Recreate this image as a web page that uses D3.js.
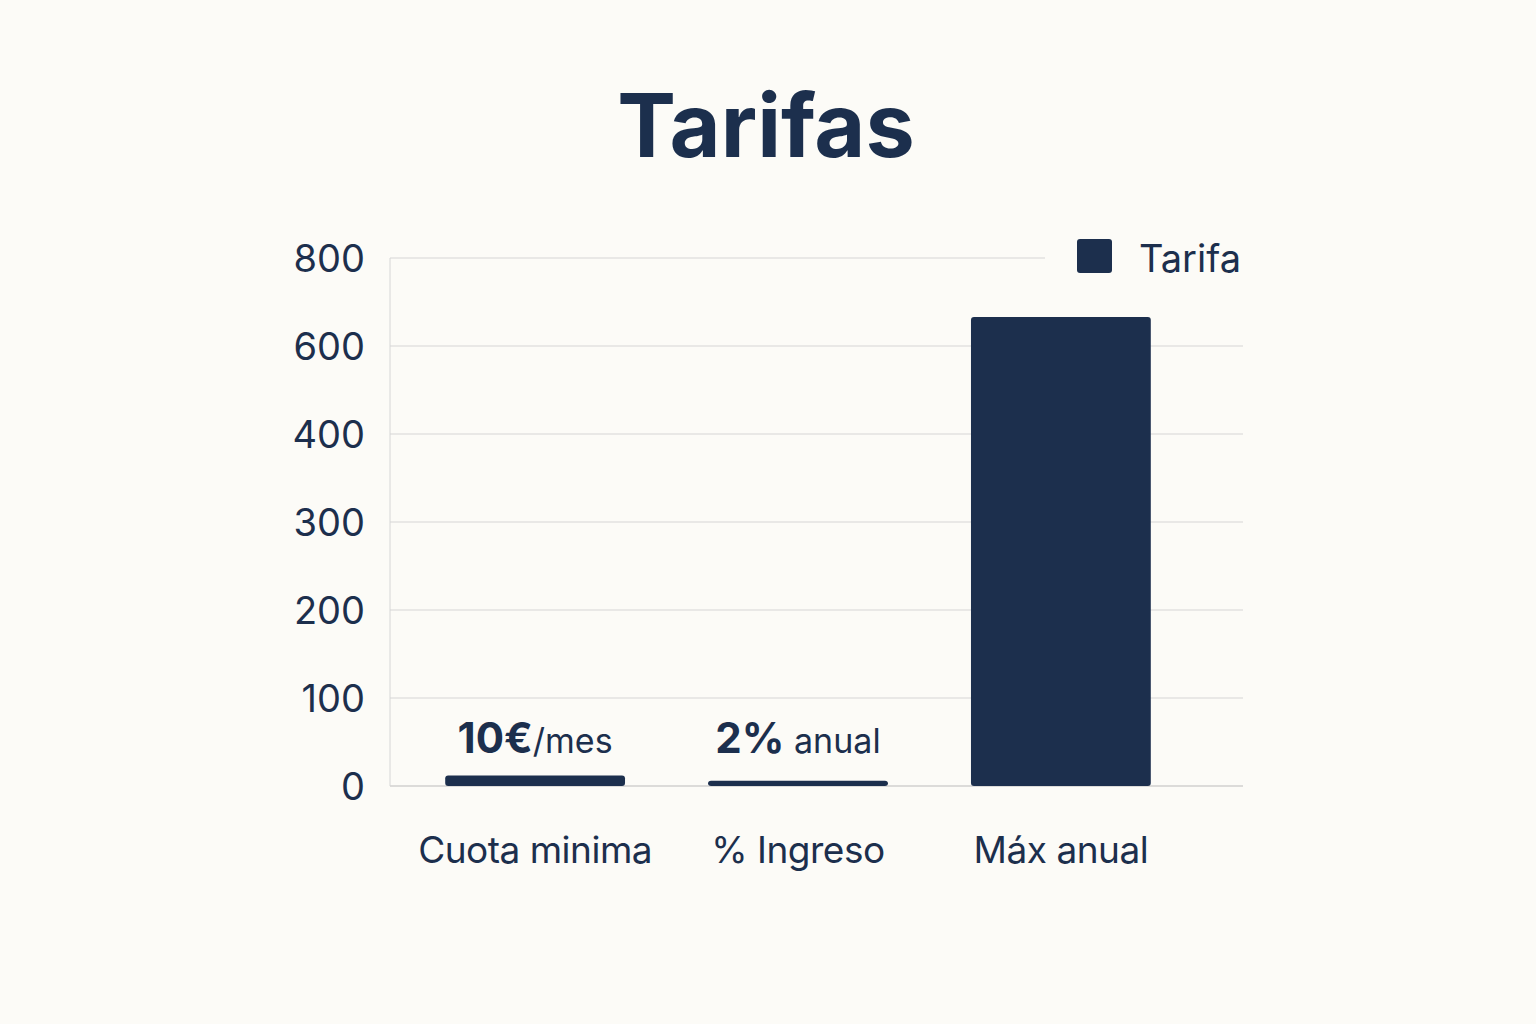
<!DOCTYPE html>
<html><head><meta charset="utf-8">
<script src="https://cdn.jsdelivr.net/npm/d3@7"></script>
<style>body{margin:0;background:#fcfbf7;}svg{display:block;font-family:Inter,"Noto Sans",sans-serif;}</style>
</head><body>
<svg id="c" width="1536" height="1024"></svg>
<script>
const categories = ["Cuota minima", "% Ingreso", "Máx anual"];
const values = [12, 6, 666];
const tickValues = [0, 100, 200, 300, 400, 600, 800];
const labelBold = ["10€", "2%", ""];
const labelRest = ["/mes", " anual", ""];
const seriesName = "Tarifa";
const col = "#1c2f4d";

const svg = d3.select("#c");
svg.append("rect").attr("width",1536).attr("height",1024).attr("fill","#fcfbf7");
const L = 390, R = 1243;
const y = d3.scaleLinear().domain(tickValues).range(tickValues.map((d,i)=>786 - i*88));
const x = d3.scaleBand().domain(categories).range([L, 1206]).paddingInner(0.316).paddingOuter(0.21);

svg.append("text").attr("x",766).attr("y",157).attr("text-anchor","middle")
  .attr("font-size",88).attr("font-weight",700).attr("fill",col).text("Tarifas");

const g = svg.append("g");
tickValues.forEach(t=>{
  g.append("line").attr("x1",L).attr("x2", t===800?1045:R).attr("y1",y(t)).attr("y2",y(t))
   .attr("stroke", t===0?"#bbbbbb":"#d6d6d6").attr("stroke-width",1.2);
  g.append("text").attr("x",365).attr("y",y(t)+14).attr("text-anchor","end")
   .attr("font-size",38).attr("fill",col).text(t);
});
g.append("line").attr("x1",L).attr("x2",L).attr("y1",y(800)).attr("y2",y(0)).attr("stroke","#d6d6d6");

categories.forEach((c,i)=>{
  g.append("rect").attr("x",x(c)).attr("width",x.bandwidth()).attr("y",y(values[i]))
   .attr("height",y(0)-y(values[i])).attr("rx",3).attr("fill",col);
  g.append("text").attr("x",x(c)+x.bandwidth()/2).attr("y",863).attr("text-anchor","middle")
   .attr("font-size",37).attr("fill",col).attr("letter-spacing",-0.5).text(c);
  if(labelBold[i]){
    const t = g.append("text").attr("x",x(c)+x.bandwidth()/2).attr("y",753).attr("text-anchor","middle").attr("fill",col);
    t.append("tspan").attr("font-size",42).attr("font-weight",700).text(labelBold[i]);
    t.append("tspan").attr("font-size",34).text(labelRest[i]);
  }
});

svg.append("rect").attr("x",1077).attr("y",239).attr("width",35).attr("height",34).attr("rx",3).attr("fill",col);
svg.append("text").attr("x",1139).attr("y",272).attr("font-size",38).attr("fill",col).text(seriesName);
</script>
</body></html>
